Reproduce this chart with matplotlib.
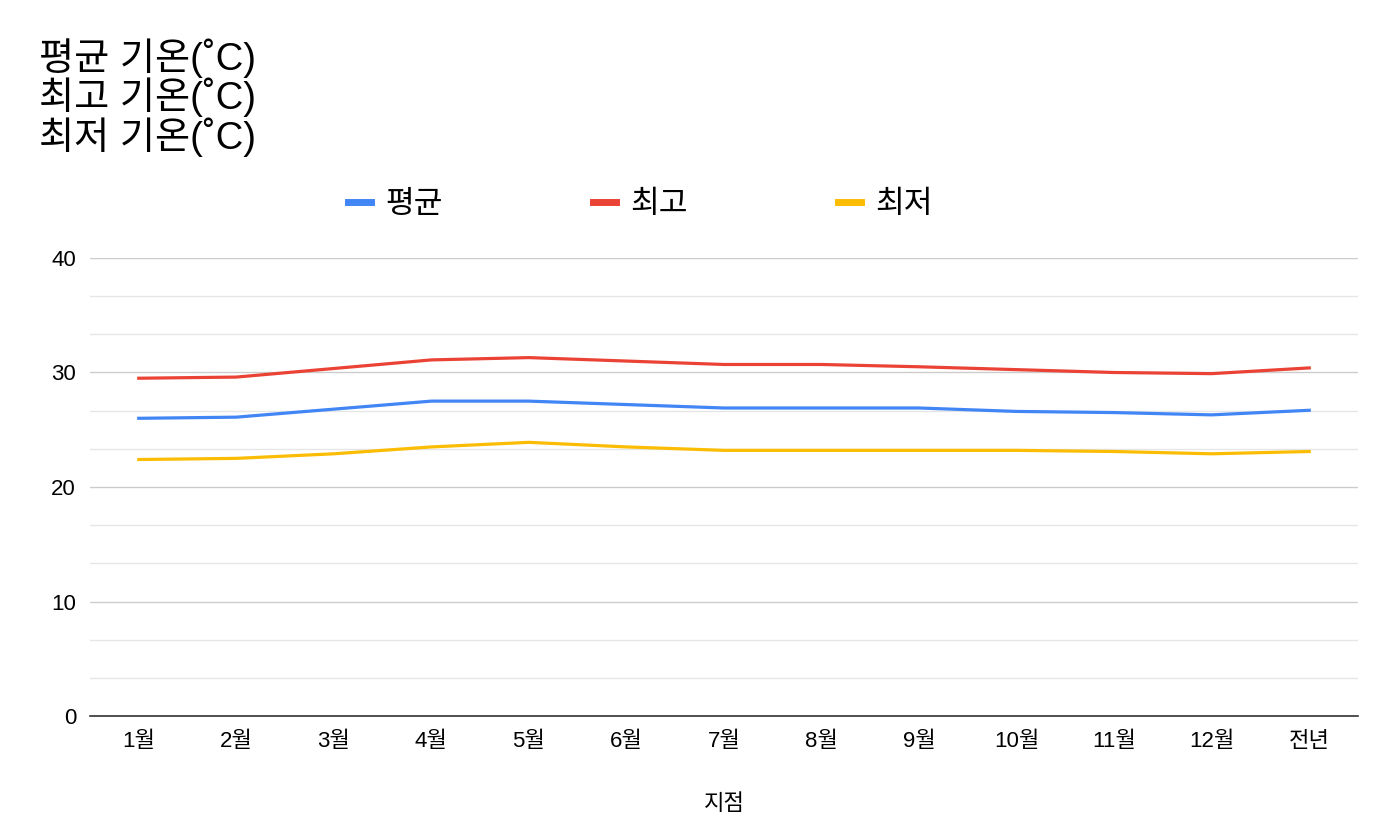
import matplotlib
matplotlib.use("Agg")
import matplotlib.pyplot as plt
import numpy as np

# 라틴 문자는 Arial 계열, 한글은 Noto CJK
plt.rcParams['font.family'] = ['Liberation Sans', 'Noto Sans CJK KR', 'DejaVu Sans']

# 데이터
months = ['1월', '2월', '3월', '4월', '5월', '6월', '7월', '8월', '9월', '10월', '11월', '12월', '전년']
avg_temp = [26.0, 26.1, 26.8, 27.5, 27.5, 27.2, 26.9, 26.9, 26.9, 26.6, 26.5, 26.3, 26.7]
max_temp = [29.5, 29.6, 30.35, 31.1, 31.3, 31.0, 30.7, 30.7, 30.5, 30.25, 30.0, 29.9, 30.4]
min_temp = [22.4, 22.5, 22.9, 23.5, 23.9, 23.5, 23.2, 23.2, 23.2, 23.2, 23.1, 22.9, 23.1]
series_names = ['평균', '최고', '최저']
colors = ['#4285F4', '#EA4335', '#FBBC04']
title_lines = ['평균 기온(˚C)', '최고 기온(˚C)', '최저 기온(˚C)']

W, H = 1400, 830
fig = plt.figure(figsize=(W / 100, H / 100), dpi=100)
ax = fig.add_axes([90 / W, 1 - 716 / H, (1358 - 90) / W, (716 - 258) / H])

x = np.arange(len(months))
for vals, name, c in zip([avg_temp, max_temp, min_temp], series_names, colors):
    ax.plot(x, vals, color=c, linewidth=2.3, label=name)

ax.set_xlim(-0.5, len(months) - 0.5)
ax.set_ylim(0, 40)
ax.set_yticks([0, 10, 20, 30, 40])
ax.set_yticks(np.arange(0, 40, 10 / 3), minor=True)
ax.grid(True, which='major', axis='y', color='#cccccc', linewidth=1)
ax.grid(True, which='minor', axis='y', color='#e6e6e6', linewidth=1)
ax.set_axisbelow(True)
ax.set_xticks(x)
ax.set_xticklabels(months)
ax.tick_params(axis='y', which='both', length=0, labelsize=16, pad=10)
ax.tick_params(axis='x', length=0, pad=11, labelsize=16)
ax.tick_params(axis='y', which='minor', labelleft=False)
for s in ['top', 'right', 'left']:
    ax.spines[s].set_visible(False)
ax.spines['bottom'].set_color('#333333')
ax.spines['bottom'].set_linewidth(1.2)
ax.spines['bottom'].set_zorder(5)

ax.set_xlabel('지점', fontsize=16, labelpad=30)

fig.text(39 / W, 1 - 38 / H, '\n'.join(title_lines), fontsize=27.5, va='top', ha='left',
         linespacing=1.0)

leg = ax.legend(ncol=3, loc='center', bbox_to_anchor=(640 / W, 1 - 205 / H),
                bbox_transform=fig.transFigure, frameon=False, fontsize=22.5,
                handlelength=0.75, handletextpad=0.45, columnspacing=4.8)
for h in leg.get_lines():
    h.set_linewidth(5)

fig.savefig('out.png', dpi=100)
